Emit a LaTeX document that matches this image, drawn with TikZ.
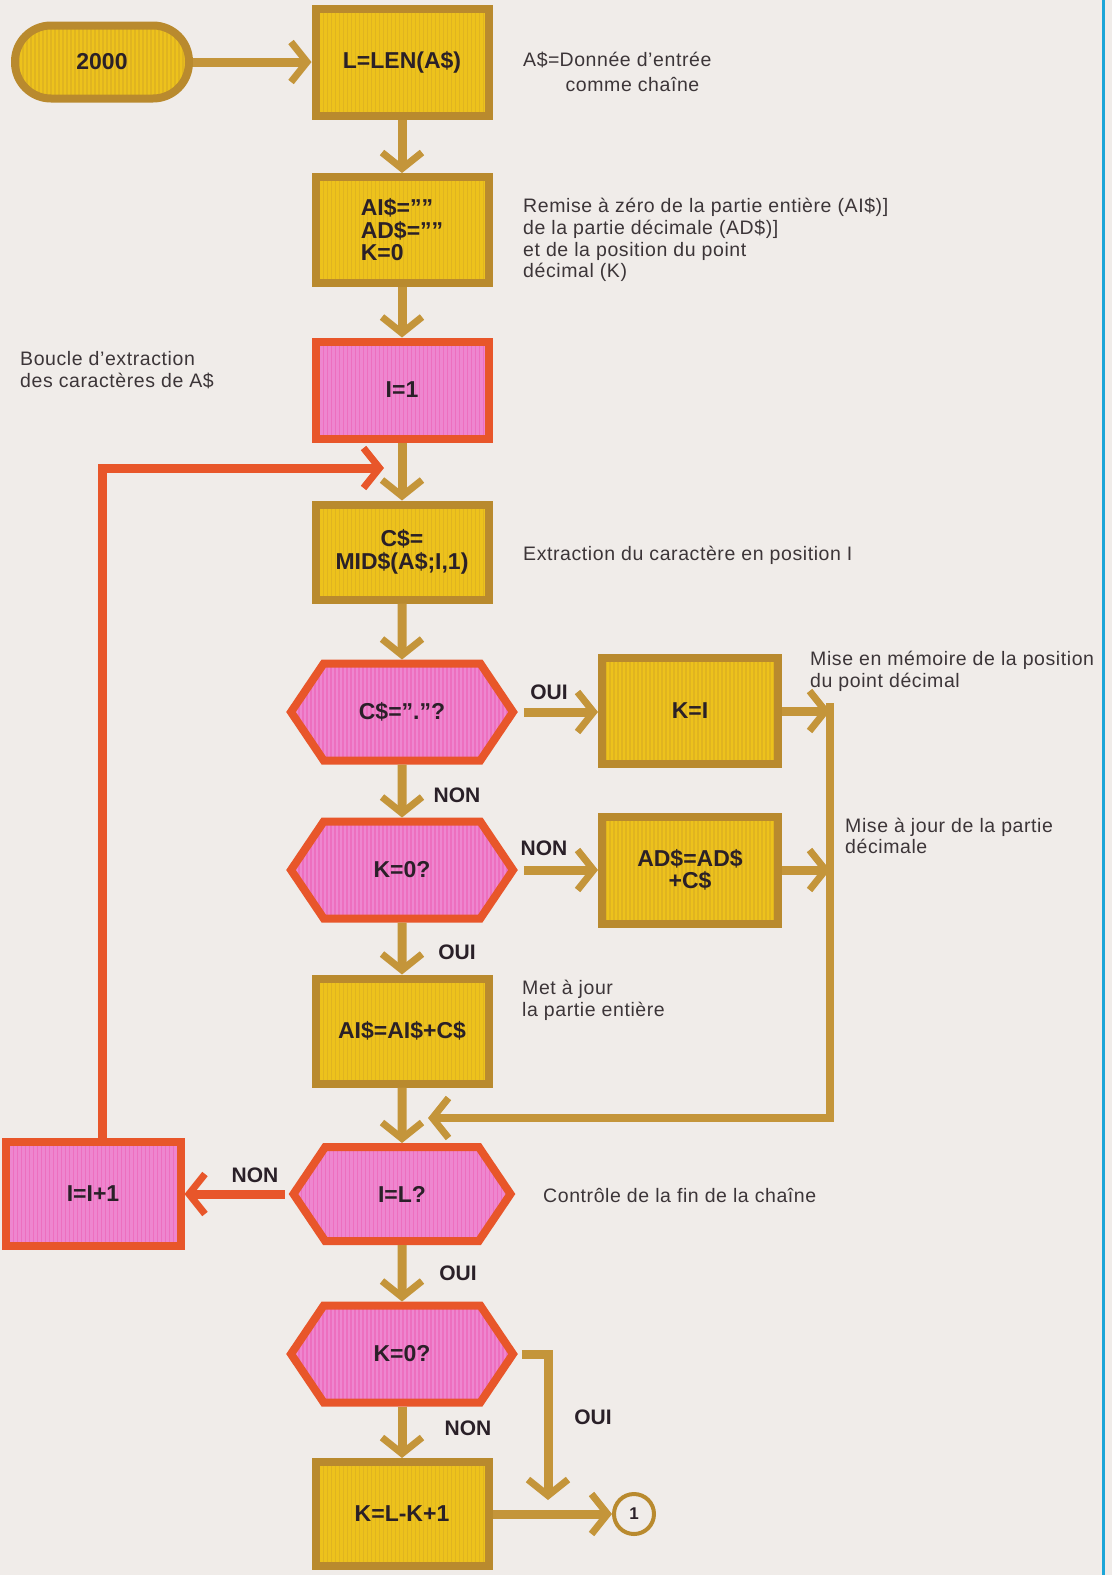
\documentclass[tikz,border=0pt]{standalone}
\usepackage{fontspec}
\setmainfont{Liberation Sans}
\newfontfamily\descfont{Liberation Sans}[LetterSpace=3]
\usetikzlibrary{arrows.meta,shapes.symbols,shapes.misc,calc}

\definecolor{paper}{HTML}{F0ECE9}
\definecolor{gold}{HTML}{EDC21C}
\definecolor{ochre}{HTML}{B98A2E}
\definecolor{arrowbrown}{HTML}{C4953A}
\definecolor{rose}{HTML}{EE86CF}
\definecolor{vermil}{HTML}{E8562A}
\definecolor{ink}{HTML}{2A2028}
\definecolor{greyink}{HTML}{3C3538}
\definecolor{cyanrule}{HTML}{1CA6D8}

\tikzset{
  lab/.style={font=\fontsize{23}{22.5}\selectfont\bfseries, text=ink, align=center, inner sep=0pt},
  stripes/.style={path picture={
      \foreach \k in {0,...,60}{
        \draw[#1, line width=1.3pt]
          ([xshift=\k*4pt]path picture bounding box.north west) --
          ([xshift=\k*4pt]path picture bounding box.south west);}}},
  gbox/.style={lab, rectangle, draw=ochre, fill=gold, line width=8pt,
    minimum width=173pt, minimum height=106pt,
    stripes={ochre!70!gold, opacity=.35}},
  pbox/.style={lab, rectangle, draw=vermil, fill=rose, line width=8pt,
    minimum width=173pt, minimum height=97pt,
    stripes={magenta!60!rose, opacity=.3}},
  hexa/.style={lab, signal, signal to=west and east, signal pointer angle=112,
    draw=vermil, fill=rose, line width=8pt, line join=miter,
    minimum width=222pt, minimum height=97pt,
    stripes={magenta!60!rose, opacity=.3}},
  arr/.style={draw=arrowbrown, line width=9pt, line join=miter,
    -{Straight Barb[length=16pt, width=40pt, line width=7pt]}},
  redarr/.style={arr, draw=vermil},
  note/.style={font=\descfont\fontsize{19.5}{21.7}\selectfont, text=greyink,
    align=left, inner sep=0pt, anchor=west},
  tag/.style={font=\fontsize{21}{21}\selectfont\bfseries, text=ink, inner sep=0pt},
}

\begin{document}
\begin{tikzpicture}[x=1pt,y=-1pt]
\useasboundingbox (0,0) rectangle (1112,1575);
\fill[paper] (0,0) rectangle (1112,1575);

% right margin rule
\draw[cyanrule, line width=3pt] (1103,0) -- (1103,1575);

% main column
\node[gbox, minimum width=174pt, minimum height=73pt, rounded corners=36pt] (start) at (102,62) {2000};
\node[gbox, minimum height=107pt] (len) at (402,62) {L=LEN(A\$)};
\node[gbox, align=left] (init) at (402,230) {AI\$=””\\AD\$=””\\K=0};
\node[pbox] (ione) at (402,390) {I=1};
\node[gbox, minimum height=95pt] (cdol) at (402,552) {C\$=\\MID\$(A\$;I,1)};
\node[hexa] (qdot) at (402,712) {C\$=”.”?};
\node[gbox, minimum width=176pt] (kset) at (690,711) {K=I};
\node[hexa] (qk) at (402,870) {K=0?};
\node[gbox, minimum width=176pt, minimum height=107pt] (adup) at (690,870) {AD\$=AD\$\\+C\$};
\node[gbox, minimum height=105pt] (aiup) at (402,1031) {AI\$=AI\$+C\$};
\node[hexa, minimum width=217pt, minimum height=94pt] (qend) at (402,1194) {I=L?};
\node[pbox, minimum width=175pt, minimum height=104pt] (inc) at (93,1194) {I=I+1};
\node[hexa] (qkk) at (402,1354) {K=0?};
\node[gbox, minimum height=104pt] (kfin) at (402,1514) {K=L-K+1};
\node[circle, draw=ochre, line width=4pt, fill=paper, minimum size=40pt, inner sep=0pt,
      font=\fontsize{17}{17}\selectfont\bfseries, text=ink] (conn) at (634,1514) {1};

% junction points
\coordinate (colTop) at (830,703);
\coordinate (colBot) at (830,1118);
\coordinate (colEnd) at (428,1118);
\coordinate (loopC) at (102,468);
\coordinate (loopEnd) at (384,468);
\coordinate (bend) at (548,1354);
\coordinate (drop) at (548,1500);

% straight flow
\draw[arr] (start.east) -- (start.east -| len.west);
\draw[arr] (len) -- (init);
\draw[arr] (init) -- (ione);
\draw[arr] (ione) -- (cdol);
\draw[arr] (cdol) -- (qdot);
\draw[arr] (qdot) -- (qk);
\draw[arr] (qk) -- (aiup);
\draw[arr] (aiup) -- (qend);
\draw[arr] (qend) -- (qkk);
\draw[arr] (qkk) -- (kfin);

% side branches
\draw[arr, shorten <=6pt] (qdot.east) -- (qdot.east -| kset.west);
\draw[arr, shorten <=6pt] (qk.east) -- (qk.east -| adup.west);
\draw[arr] (kset.east) -- (kset.east -| colTop);
\draw[arr] (adup.east) -- (adup.east -| colTop);
\draw[arr, line width=8pt] (colTop) -- (colBot) -- (colEnd);

% loop back
\draw[redarr, shorten <=4pt] (qend.west) -- (qend.west -| inc.east);
\draw[redarr] (inc.north -| loopC) -- (loopC) -- (loopEnd);

% exit
\draw[arr, shorten <=4pt] (qkk.east) -- (bend) -- (drop);
\draw[arr] (kfin.east) -- (conn.west);

% branch tags
\node[tag] (t1) at (549,692) {OUI};
\node[tag] (t2) at (457,795) {NON};
\node[tag] (t3) at (544,848) {NON};
\node[tag] (t4) at (457,952) {OUI};
\node[tag] (t5) at (255,1175) {NON};
\node[tag] (t6) at (458,1273) {OUI};
\node[tag] (t7) at (468,1428) {NON};
\node[tag] (t8) at (593,1417) {OUI};

% comments
\node[note, font=\descfont\fontsize{19.5}{25}\selectfont] (n1) at (523,74)
  {\begin{tabular}{@{}l@{}l@{}}A\$=&Donnée d’entrée\\&\ comme chaîne\end{tabular}};
\node[note] (n2) at (523,240) {Remise à zéro de la partie entière (AI\$)]\\de la partie décimale (AD\$)]\\et de la position du point\\décimal (K)};
\node[note] (n3) at (20,370) {Boucle d’extraction\\des caractères de A\$};
\node[note] (n4) at (523,555) {Extraction du caractère en position I};
\node[note] (n5) at (810,671) {Mise en mémoire de la position\\du point décimal};
\node[note] (n6) at (845,836) {Mise à jour de la partie\\décimale};
\node[note] (n7) at (522,1000) {Met à jour\\la partie entière};
\node[note] (n8) at (543,1195) {Contrôle de la fin de la chaîne};
\end{tikzpicture}
\end{document}
